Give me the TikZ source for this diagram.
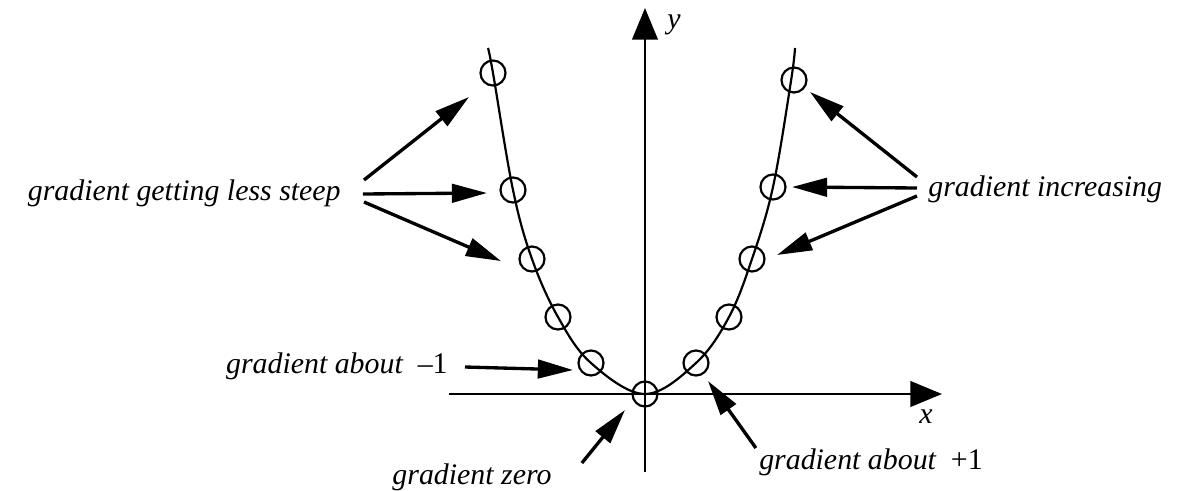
\documentclass[tikz,border=0pt]{standalone}
\usepackage{fontspec}
\setmainfont{Liberation Serif}
\usepackage{tikz}
\usetikzlibrary{arrows.meta,positioning}

\begin{document}
\begin{tikzpicture}[
  axisline/.style={line width=1.5pt,-{Triangle[length=18pt,width=14.5pt]}},
  gradarrow/.style={line width=1.9pt,-{Triangle[length=20pt,width=10.5pt]}},
  curveline/.style={line width=1.25pt},
  ring/.style={circle,draw,line width=1.25pt,minimum size=0.5cm,inner sep=0pt},
  lbl/.style={inner sep=0pt,font=\fontsize{17}{20}\selectfont\itshape}]
  \useasboundingbox (-12.9,-1.92) rectangle (10.64,7.88);
  \coordinate (xl) at (-3.92,0);
  \coordinate (xr) at (5.94,0);
  \coordinate (yb) at (0,-1.56);
  \coordinate (yt) at (0,7.72);
  \draw[axisline] (xl) -- (xr);
  \draw[axisline] (yb) -- (yt);
  \node[lbl] (xlab) at (5.62,-0.46) {x};
  \node[lbl] (ylab) at (0.58,7.38) {y};
  \draw[curveline] plot[smooth,tension=0.6] coordinates {(-3.14,6.92) (-3.04,6.42) (-2.64,4.08) (-2.26,2.70) (-1.74,1.54) (-1.08,0.62) (0,0) (1.02,0.62) (1.68,1.54) (2.14,2.70) (2.56,4.14) (2.92,6.26) (3.00,6.92)};
  \node[ring] (l5) at (-3.04,6.42) {};
  \node[ring] (l4) at (-2.64,4.08) {};
  \node[ring] (l3) at (-2.26,2.70) {};
  \node[ring] (l2) at (-1.74,1.54) {};
  \node[ring] (l1) at (-1.08,0.62) {};
  \node[ring] (o) at (0,0) {};
  \node[ring] (r1) at (1.02,0.62) {};
  \node[ring] (r2) at (1.68,1.54) {};
  \node[ring] (r3) at (2.14,2.70) {};
  \node[ring] (r4) at (2.56,4.14) {};
  \node[ring] (r5) at (2.98,6.28) {};
  \node[lbl,anchor=east] (steep) at (-6.08,4.02) {gradient getting less steep};
  \node[lbl,anchor=west] (incr) at (5.66,4.10) {gradient increasing};
  \node[lbl,anchor=east] (minus) at (-3.94,0.56) {gradient about\ \ \upshape –1};
  \node[lbl] (zero) at (-3.46,-1.66) {gradient zero};
  \node[lbl] (plus) at (4.52,-1.36) {gradient about\ \ \upshape +1};
  \coordinate (ts1) at (-3.52,5.94);
  \coordinate (ts2) at (-3.16,4.02);
  \coordinate (ts3) at (-2.88,2.66);
  \coordinate (ti1) at (3.30,6.04);
  \coordinate (ti2) at (2.94,4.14);
  \coordinate (ti3) at (2.64,2.78);
  \coordinate (tm) at (-1.44,0.48);
  \coordinate (tz) at (-0.40,-0.32);
  \coordinate (tp) at (1.26,0.26);
  \draw[gradarrow] ([xshift=0.46cm,yshift=0.26cm]steep.east) -- (ts1);
  \draw[gradarrow] ([xshift=0.44cm,yshift=-0.02cm]steep.east) -- (ts2);
  \draw[gradarrow] ([xshift=0.46cm,yshift=-0.18cm]steep.east) -- (ts3);
  \draw[gradarrow] ([xshift=-0.22cm,yshift=0.24cm]incr.west) -- (ti1);
  \draw[gradarrow] ([xshift=-0.22cm,yshift=0.02cm]incr.west) -- (ti2);
  \draw[gradarrow] ([xshift=-0.22cm,yshift=-0.14cm]incr.west) -- (ti3);
  \draw[gradarrow] ([xshift=0.34cm,yshift=-0.02cm]minus.east) -- (tm);
  \draw[gradarrow] ([xshift=0.6cm,yshift=0.28cm]zero.east) -- (tz);
  \draw[gradarrow] ([xshift=-0.06cm,yshift=0.28cm]plus.west) -- (tp);
\end{tikzpicture}
\end{document}
